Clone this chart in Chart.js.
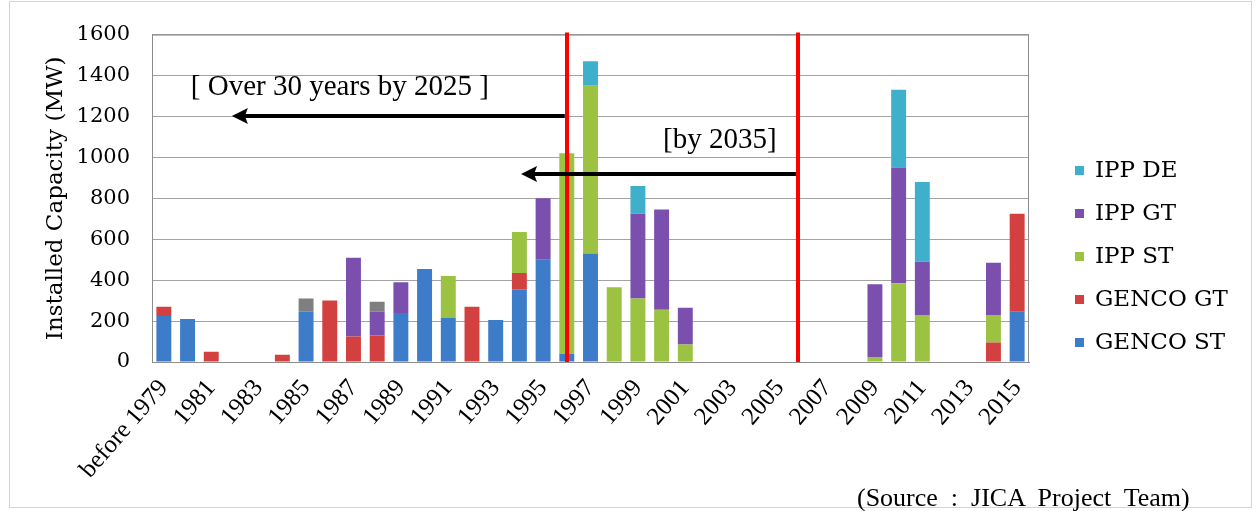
<!DOCTYPE html>
<html>
<head>
<meta charset="utf-8">
<script src="https://cdn.jsdelivr.net/npm/chart.js@4.4.1/dist/chart.umd.min.js"></script>
<style>
  html, body { margin: 0; padding: 0; background: #fff; }
  #wrap { position: relative; width: 1259px; height: 511px; }
  #frame { position: absolute; left: 9px; top: 1px; width: 1243px; height: 507px; border: 1px solid #d4d4d4; box-sizing: border-box; }
  #source { position: absolute; left: 857px; top: 483px; font: 26px "Liberation Serif", serif; color: #000; white-space: pre; }
  canvas { position: absolute; left: 0; top: 0; }
</style>
</head>
<body>
<div id="wrap">
  <div id="frame"></div>
  <canvas id="chart-capacity" width="1259" height="511"></canvas>
  <div id="source">(Source  :  JICA  Project  Team)</div>
</div>
<script>
// ---- Installed capacity by commissioning year (MW) ----

const years = ['before 1979'];
for (let y = 1980; y <= 2015; y++) years.push(String(y));

const gencoST = [225, 210, 0, 0, 0, 0, 245, 0, 0, 0, 240, 455, 215, 0, 205, 355, 500, 40, 530, 0, 0, 0, 0,
                 0, 0, 0, 0, 0, 0, 0, 0, 0, 0, 0, 0, 0, 245];
const gencoGT = [45, 0, 50, 0, 0, 35, 0, 300, 125, 130, 0, 0, 0, 270, 0, 80, 0, 0, 0, 0, 0, 0, 0,
                 0, 0, 0, 0, 0, 0, 0, 0, 0, 0, 0, 0, 95, 480];
const ippST   = [0, 0, 0, 0, 0, 0, 0, 0, 0, 0, 0, 0, 205, 0, 0, 200, 0, 980, 820, 365, 310, 255, 85,
                 0, 0, 0, 0, 0, 0, 0, 25, 385, 230, 0, 0, 135, 0];
const ippGT   = [0, 0, 0, 0, 0, 0, 0, 0, 385, 115, 150, 0, 0, 0, 0, 0, 300, 0, 0, 0, 415, 490, 180,
                 0, 0, 0, 0, 0, 0, 0, 355, 565, 260, 0, 0, 255, 0];
const ippDE   = [0, 0, 0, 0, 0, 0, 0, 0, 0, 0, 0, 0, 0, 0, 0, 0, 0, 0, 120, 0, 135, 0, 0,
                 0, 0, 0, 0, 0, 0, 0, 0, 380, 390, 0, 0, 0, 0];
const others  = [0, 0, 0, 0, 0, 0, 65, 0, 0, 50, 0, 0, 0, 0, 0, 0, 0, 0, 0, 0, 0, 0, 0,
                 0, 0, 0, 0, 0, 0, 0, 0, 0, 0, 0, 0, 0, 0];

const yTicks = [0, 200, 400, 600, 800, 1000, 1200, 1400, 1600];

// vertical marker lines (category index, fractional allowed)
const markerLines = [17, 26.75];
// arrows pointing back in time: from index -> to index at a capacity level
const arrows = [
  { from: 17, to: 2.87, at: 1200 },
  { from: 26.75, to: 15.07, at: 920 }
];
const notes = [
  { text: '[ Over 30 years by 2025 ]', x: 1.14, at: 1340 },
  { text: '[by 2035]', x: 21.06, at: 1083 }
];

const serif = '"Liberation Serif", "Times New Roman", serif';
const century = '"DejaVu Serif", serif';

// index -> pixel, allowing positions between category centres
function idxPx(xScale, v) {
  const p0 = xScale.getPixelForValue(0);
  const step = xScale.getPixelForValue(1) - p0;
  return p0 + v * step;
}

const overlays = {
  id: 'overlays',
  beforeDatasetsDraw(chart) {
    const { ctx, chartArea: a } = chart;
    ctx.save();
    ctx.strokeStyle = '#8c8c8c';
    ctx.lineWidth = 1;
    ctx.strokeRect(a.left + 0.5, a.top + 0.5, a.right - a.left - 1, a.bottom - a.top);
    ctx.restore();
  },
  afterDatasetsDraw(chart) {
    const { ctx, chartArea: a, scales: { x, y } } = chart;
    ctx.save();

    ctx.strokeStyle = '#ff0000';
    ctx.lineWidth = 4;
    markerLines.forEach(v => {
      const px = Math.round(idxPx(x, v));
      ctx.beginPath();
      ctx.moveTo(px, a.top - 2);
      ctx.lineTo(px, a.bottom);
      ctx.stroke();
    });

    ctx.strokeStyle = '#000';
    ctx.fillStyle = '#000';
    arrows.forEach(ar => {
      const x0 = idxPx(x, ar.from) - 2;
      const x1 = idxPx(x, ar.to);
      const yy = Math.round(y.getPixelForValue(ar.at));
      ctx.lineWidth = 4;
      ctx.beginPath();
      ctx.moveTo(x0, yy);
      ctx.lineTo(x1 + 12, yy);
      ctx.stroke();
      ctx.beginPath();
      ctx.moveTo(x1, yy);
      ctx.lineTo(x1 + 16, yy - 8);
      ctx.lineTo(x1 + 13, yy);
      ctx.lineTo(x1 + 16, yy + 8);
      ctx.closePath();
      ctx.fill();
    });

    ctx.font = '29px ' + serif;
    ctx.textBaseline = 'middle';
    ctx.textAlign = 'left';
    notes.forEach(n => ctx.fillText(n.text, idxPx(x, n.x), y.getPixelForValue(n.at)));

    ctx.restore();
  },
  afterDraw(chart) {
    // legend column on the right, top series first
    const { ctx, chartArea: a } = chart;
    const items = chart.data.datasets.filter(d => d.inLegend).slice().reverse();
    ctx.save();
    ctx.font = '23px ' + century;
    ctx.textBaseline = 'middle';
    items.forEach((d, i) => {
      const cy = 170 + i * 43;
      ctx.fillStyle = d.backgroundColor;
      ctx.fillRect(a.right + 46, cy - 4, 9, 9);
      ctx.fillStyle = '#000';
      ctx.fillText(d.label, a.right + 66, cy + 1);
    });
    ctx.restore();
  }
};

new Chart(document.getElementById('chart-capacity'), {
  type: 'bar',
  data: {
    labels: years,
    datasets: [
      { label: 'GENCO ST', data: gencoST, backgroundColor: '#3d7cc9', inLegend: true },
      { label: 'GENCO GT', data: gencoGT, backgroundColor: '#d2413f', inLegend: true },
      { label: 'IPP ST',   data: ippST,   backgroundColor: '#9bc241', inLegend: true },
      { label: 'IPP GT',   data: ippGT,   backgroundColor: '#7b4fae', inLegend: true },
      { label: 'IPP DE',   data: ippDE,   backgroundColor: '#3fb0cc', inLegend: true },
      { label: 'Others',   data: others,  backgroundColor: '#7f7f7f', inLegend: false }
    ]
  },
  options: {
    responsive: false,
    animation: false,
    layout: { padding: { left: 0, top: 33, right: 230, bottom: 0 } },
    datasets: { bar: { barPercentage: 0.63, categoryPercentage: 1 } },
    plugins: {
      legend: { display: false },
      tooltip: { enabled: false }
    },
    scales: {
      x: {
        stacked: true,
        grid: { display: false },
        border: { color: '#8c8c8c' },
        ticks: {
          autoSkip: false,
          maxRotation: 49,
          minRotation: 49,
          padding: 4,
          color: '#000',
          font: { family: serif, size: 25 },
          callback(v, i) { return i % 2 === 0 ? years[i] : ''; }
        },
        afterFit(s) { s.height = 149; }
      },
      y: {
        stacked: true,
        min: 0,
        max: 1600,
        afterBuildTicks(s) { s.ticks = yTicks.map(v => ({ value: v })); },
        grid: { color: '#a3a3a3', drawTicks: false },
        border: { color: '#8c8c8c' },
        ticks: {
          padding: 22,
          color: '#000',
          font: { family: century, size: 21 },
          callback(v) { return String(v); }
        },
        title: {
          display: true,
          text: 'Installed Capacity (MW)',
          color: '#000',
          font: { family: century, size: 23 },
          padding: { top: 42, bottom: 0 }
        },
        afterFit(s) { s.width = 152; }
      }
    }
  },
  plugins: [overlays]
});
</script>
</body>
</html>
